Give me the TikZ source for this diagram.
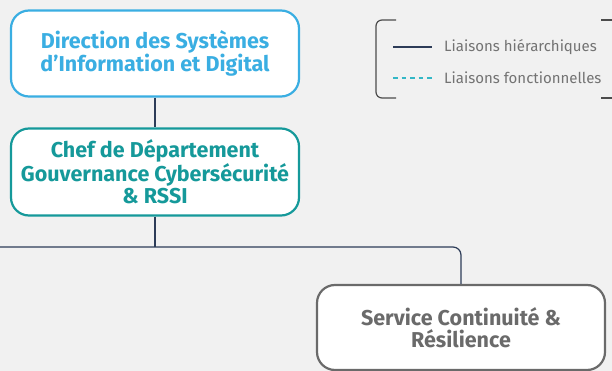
\documentclass[tikz,border=0pt]{standalone}
\usepackage{fontspec}
\setmainfont{Fira Sans}
\usetikzlibrary{positioning}

\definecolor{bggray}{HTML}{F1F1F1}
\definecolor{dirblue}{HTML}{3AAEE2}
\definecolor{chefteal}{HTML}{15999A}
\definecolor{servgray}{HTML}{6A6A6A}
\definecolor{navyline}{HTML}{2D3C58}
\definecolor{dashcyan}{HTML}{33B7C6}
\definecolor{leggray}{HTML}{737373}

\tikzset{
  orgbox/.style={draw, line width=2.2pt, rounded corners=18pt, fill=white,
    align=center, inner sep=0pt, minimum width=288pt,
    font=\fontsize{21.5}{22.5}\selectfont\bfseries},
  hierlink/.style={draw=navyline, line width=1.2pt},
  fonclink/.style={draw=dashcyan, line width=1.2pt, dash pattern=on 4.5pt off 4pt},
  legtext/.style={text=leggray, inner sep=0pt, anchor=west,
    font=\fontsize{15}{17}\selectfont},
  legbracket/.style={draw=black!70, line width=1.2pt, rounded corners=6pt}
}

\begin{document}
\begin{tikzpicture}[x=1pt,y=-1pt]
		% background
		\fill[bggray] (0,0) rectangle (612,371);
		\useasboundingbox (0,0) rectangle (612,371);
		
		% boxes
		\node[orgbox, draw=dirblue, text=dirblue, minimum height=86pt] (direction) at (155,53.5)
		  {Direction des Systèmes\\d’Information et Digital};
		\node[orgbox, draw=chefteal, text=chefteal, minimum height=87pt] (chef) at (155,172)
		  {Chef de Département\\Gouvernance Cybersécurité\\\& RSSI};
		\node[orgbox, draw=servgray, text=servgray, minimum height=85pt] (service) at (461,327.5)
		  {Service Continuité \&\\Résilience};
		
		% links
		\coordinate (branch) at (155,247);
		\coordinate (leftend) at (0,247);
		\draw[hierlink] (direction) -- (chef);
		\draw[hierlink] (chef) -- (branch);
		\draw[hierlink, rounded corners=8pt] (leftend) -| (service.north);
		
		% legend
		\draw[legbracket] (396,20) -| (376,98) -- (396,98);
		\draw[legbracket] (601,20) -- (612,20);
		\draw[legbracket] (601,98) -- (612,98);
		\coordinate (hierA) at (393,47);
		\coordinate (hierB) at (432,47);
		\coordinate (foncA) at (393,78);
		\coordinate (foncB) at (432,78);
		\draw[hierlink] (hierA) -- (hierB);
		\draw[fonclink] (foncA) -- (foncB);
		\node[legtext, right=12pt of hierB] (hierlbl) {Liaisons hiérarchiques};
		\node[legtext, right=12pt of foncB] (fonclbl) {Liaisons fonctionnelles};
		
\end{tikzpicture}
\end{document}
